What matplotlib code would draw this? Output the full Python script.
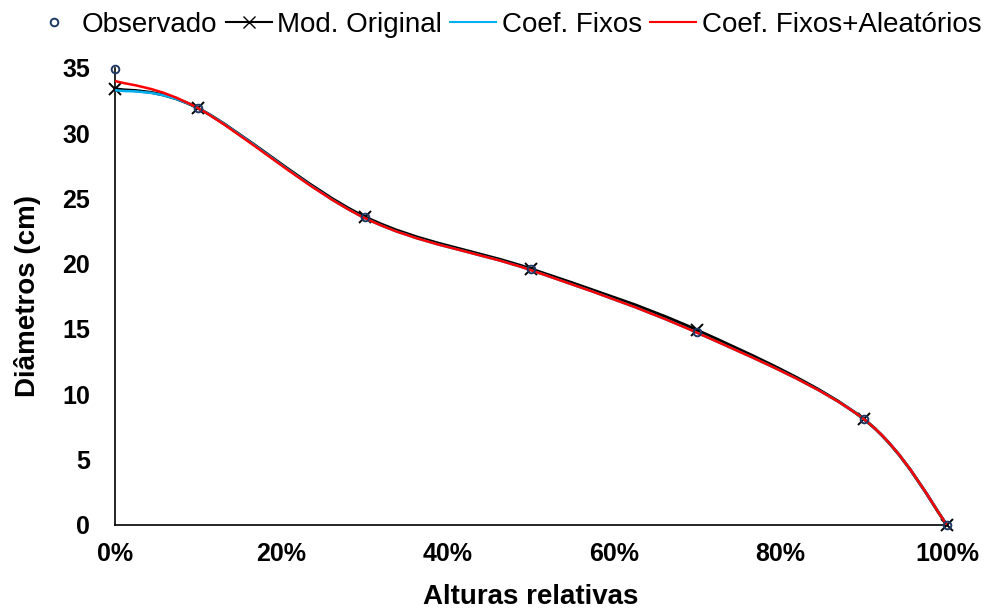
import matplotlib
matplotlib.use("Agg")
import matplotlib.pyplot as plt
from matplotlib.path import Path
from matplotlib.patches import PathPatch
from matplotlib.lines import Line2D
from matplotlib.ticker import FuncFormatter

plt.rcParams['font.family'] = ['Liberation Sans', 'DejaVu Sans']

alturas = [0.0, 0.1, 0.3, 0.5, 0.7, 0.9, 1.0]
observado = [34.9, 31.9, 23.6, 19.6, 14.8, 8.1, 0.0]
mod_original = [33.4, 31.9, 23.6, 19.6, 14.9, 8.1, 0.0]
coef_fixos = [33.3, 31.9, 23.5, 19.5, 14.7, 8.1, 0.0]
coef_fixos_aleat = [34.0, 31.9, 23.5, 19.5, 14.7, 8.1, 0.0]


def smooth_path(x, y):
    # excel-style smoothed line: cubic bezier segments
    n = len(x)
    verts = [(x[0], y[0])]
    codes = [Path.MOVETO]
    for i in range(n - 1):
        i0 = max(i - 1, 0)
        i3 = min(i + 2, n - 1)
        c1 = (x[i] + (x[i + 1] - x[i0]) / 6, y[i] + (y[i + 1] - y[i0]) / 6)
        c2 = (x[i + 1] - (x[i3] - x[i]) / 6, y[i + 1] - (y[i3] - y[i]) / 6)
        verts += [c1, c2, (x[i + 1], y[i + 1])]
        codes += [Path.CURVE4] * 3
    return Path(verts, codes)


fig = plt.figure(figsize=(10, 6.11), dpi=100)
ax = fig.add_axes([0.115, 0.141, 0.832, 0.748])

ax.add_patch(PathPatch(smooth_path(alturas, mod_original), fill=False,
                       edgecolor='black', lw=2.2, zorder=2))
ax.plot(alturas, mod_original, ls='none', marker='x', color='black',
        ms=8, mew=1.4, zorder=3, clip_on=False)
ax.add_patch(PathPatch(smooth_path(alturas, coef_fixos), fill=False,
                       edgecolor='#00B0F0', lw=1.8, zorder=4))
ax.add_patch(PathPatch(smooth_path(alturas, coef_fixos_aleat), fill=False,
                       edgecolor='#FF0000', lw=1.8, zorder=5))
ax.plot(alturas, observado, ls='none', marker='o', mfc='none',
        mec='#1F3864', ms=5.5, mew=1.4, zorder=6, clip_on=False)

ax.set_xlim(0, 1)
ax.set_ylim(0, 35)
ax.set_xticks([0, 0.2, 0.4, 0.6, 0.8, 1.0])
ax.set_yticks(range(0, 36, 5))
ax.xaxis.set_major_formatter(FuncFormatter(lambda v, p: f"{v*100:.0f}%"))
ax.tick_params(length=0, labelsize=18)
ax.tick_params(axis='x', pad=12)
ax.tick_params(axis='y', pad=18)
for lab in ax.get_xticklabels() + ax.get_yticklabels():
    lab.set_fontweight('bold')
for s in ['top', 'right']:
    ax.spines[s].set_visible(False)
for s in ['left', 'bottom']:
    ax.spines[s].set_linewidth(1.2)

ax.set_xlabel('Alturas relativas', fontsize=20, fontweight='bold', labelpad=13)
ax.set_ylabel('Diâmetros (cm)', fontsize=20, fontweight='bold', labelpad=15)

handles = [
    Line2D([], [], ls='none', marker='o', mfc='none', mec='#1F3864', ms=5.5, mew=1.4),
    Line2D([], [], color='black', marker='x', lw=1.5, ms=8),
    Line2D([], [], color='#00B0F0', lw=1.5),
    Line2D([], [], color='#FF0000', lw=1.5),
]
labels = ['Observado', 'Mod. Original', 'Coef. Fixos', 'Coef. Fixos+Aleatórios']
fig.legend(handles, labels, loc='upper center', bbox_to_anchor=(0.506, 1.022),
           ncol=4, frameon=False, fontsize=20, handlelength=1.65,
           handletextpad=0.2, columnspacing=0.3)

fig.savefig('out.png', dpi=100)
